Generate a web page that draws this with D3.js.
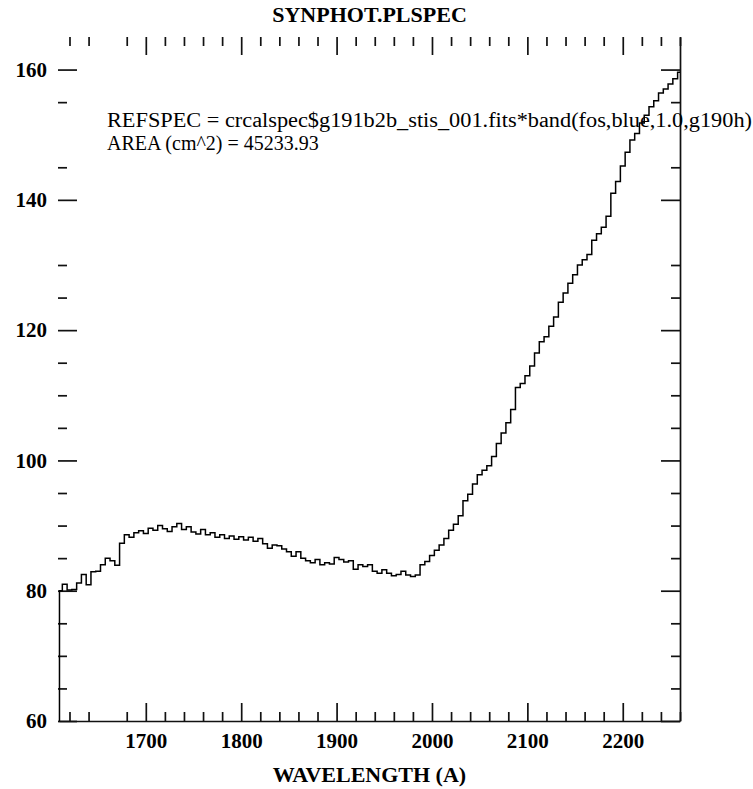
<!DOCTYPE html>
<html>
<head>
<meta charset="utf-8">
<script src="https://cdn.jsdelivr.net/npm/d3@7"></script>
<style>
  body { margin: 0; background: #fff; }
  svg text { font-family: "Liberation Serif", "Times New Roman", serif; fill: #000; }
  .axis text { font-size: 21px; font-weight: bold; }
  .axis line, .axis path { stroke: #111; stroke-width: 1.7; }
  .title, .xlabel { font-size: 22px; font-weight: bold; }
  .note { font-size: 20px; }
</style>
</head>
<body>
<div id="chart"></div>
<script>
const title = "SYNPHOT.PLSPEC";
const xLabel = "WAVELENGTH (A)";
const notes = [
    "REFSPEC = crcalspec$g191b2b_stis_001.fits*band(fos,blue,1.0,g190h)",
    "AREA (cm^2) = 45233.93"
];
const xDomain = [1609, 2260];
const yDomain = [60, 165];
const xMajorTicks = [1700, 1800, 1900, 2000, 2100, 2200];
const xMinorTicks = [1620, 1640, 1680, 1720, 1740, 1760, 1780, 1820, 1840, 1860, 1880,
    1920, 1940, 1960, 1980, 2020, 2040, 2060, 2080, 2120, 2140, 2160, 2180, 2220, 2240, 2260];
const yMajorTicks = [60, 80, 100, 120, 140, 160];
const yMinorTicks = [65, 70, 75, 85, 90, 95, 105, 110, 115, 125, 130, 145, 155];

// [wavelength (A), flux]
const spectrum = [
    [1610, 80.0], [1615, 81.0], [1620, 80.1], [1625, 80.2], [1630, 81.2], [1635, 82.5],
    [1640, 80.9], [1645, 82.9], [1650, 83.0], [1655, 84.0], [1660, 85.0], [1665, 84.6],
    [1670, 83.9], [1675, 87.3], [1680, 88.6], [1685, 88.2], [1690, 88.9], [1695, 89.2],
    [1700, 88.8], [1705, 89.6], [1710, 89.3], [1715, 90.0], [1720, 89.5], [1725, 89.1],
    [1730, 89.8], [1735, 90.3], [1740, 89.4], [1745, 89.8], [1750, 89.0], [1755, 88.7],
    [1760, 89.4], [1765, 88.6], [1770, 88.9], [1775, 88.2], [1780, 88.6], [1785, 88.0],
    [1790, 88.4], [1795, 87.9], [1800, 88.3], [1805, 87.8], [1810, 88.2], [1815, 87.6],
    [1820, 88.0], [1825, 87.2], [1830, 86.5], [1835, 87.0], [1840, 86.9], [1845, 86.4],
    [1850, 86.0], [1855, 85.3], [1860, 86.0], [1865, 85.0], [1870, 84.6], [1875, 84.3],
    [1880, 84.8], [1885, 84.0], [1890, 84.3], [1895, 84.1], [1900, 85.1], [1905, 84.8],
    [1910, 84.4], [1915, 84.6], [1920, 83.3], [1925, 84.0], [1930, 83.7], [1935, 84.0],
    [1940, 83.0], [1945, 82.7], [1950, 83.2], [1955, 82.7], [1960, 82.3], [1965, 82.5],
    [1970, 83.0], [1975, 82.4], [1980, 82.2], [1985, 82.4], [1990, 84.0], [1995, 84.5],
    [2000, 85.4], [2005, 86.2], [2010, 87.0], [2015, 88.0], [2020, 89.3], [2025, 90.2],
    [2030, 91.5], [2035, 93.8], [2040, 94.8], [2045, 96.4], [2050, 97.8], [2055, 98.5],
    [2060, 99.2], [2065, 100.6], [2070, 102.6], [2075, 104.2], [2080, 105.8], [2085, 107.8],
    [2090, 111.2], [2095, 111.8], [2100, 113.0], [2105, 114.5], [2110, 116.5], [2115, 118.2],
    [2120, 119.0], [2125, 120.6], [2130, 122.0], [2135, 124.3], [2140, 125.7], [2145, 127.2],
    [2150, 128.5], [2155, 130.0], [2160, 130.8], [2165, 131.6], [2170, 133.8], [2175, 134.8],
    [2180, 135.8], [2185, 137.5], [2190, 141.0], [2195, 142.8], [2200, 145.2], [2205, 147.3],
    [2210, 149.2], [2215, 150.2], [2220, 151.8], [2225, 153.0], [2230, 154.3], [2235, 155.2],
    [2240, 156.4], [2245, 157.0], [2250, 157.8], [2255, 158.6], [2260, 159.6]
];

class SpecPlot {
    constructor(element) {
        this.width = 753;
        this.height = 789;
        this.frame = {left: 59, right: 680, top: 37, bottom: 721};
        this.svg = d3.select(element).append("svg")
            .attr("width", this.width)
            .attr("height", this.height);
        this.x = d3.scaleLinear().domain(xDomain).range([this.frame.left, this.frame.right]);
        this.y = d3.scaleLinear().domain(yDomain).range([this.frame.bottom, this.frame.top]);
    }

    axes() {
        const f = this.frame;
        const g = this.svg.append("g").attr("class", "axis");

        g.append("g").attr("transform", `translate(0,${f.bottom})`)
            .call(d3.axisBottom(this.x).tickValues(xMajorTicks).tickSize(-18).tickSizeOuter(0).tickPadding(12).tickFormat(d3.format("d")));
        g.append("g").attr("transform", `translate(0,${f.bottom})`)
            .call(d3.axisBottom(this.x).tickValues(xMinorTicks).tickSize(-9).tickSizeOuter(0).tickFormat(""))
            .select(".domain").remove();

        g.append("g").attr("transform", `translate(0,${f.top})`)
            .call(d3.axisTop(this.x).tickValues(xMajorTicks).tickSize(-18).tickFormat(""))
            .select(".domain").remove();
        g.append("g").attr("transform", `translate(0,${f.top})`)
            .call(d3.axisTop(this.x).tickValues(xMinorTicks).tickSize(-9).tickFormat(""))
            .select(".domain").remove();

        g.append("g").attr("transform", `translate(${f.left - 1},0)`)
            .call(d3.axisLeft(this.y).tickValues(yMajorTicks).tickSize(-19).tickPadding(11).tickFormat(d3.format("d")))
            .select(".domain").remove();
        g.append("g").attr("transform", `translate(${f.left - 1},0)`)
            .call(d3.axisLeft(this.y).tickValues(yMinorTicks).tickSize(-9).tickFormat(""))
            .select(".domain").remove();

        g.append("g").attr("transform", `translate(${f.right},0)`)
            .call(d3.axisRight(this.y).tickValues(yMajorTicks).tickSize(-19).tickSizeOuter(0).tickFormat(""));
        g.append("g").attr("transform", `translate(${f.right},0)`)
            .call(d3.axisRight(this.y).tickValues(yMinorTicks).tickSize(-9).tickSizeOuter(0).tickFormat(""))
            .select(".domain").remove();
    }

    draw() {
        const f = this.frame;
        this.axes();

        this.svg.append("clipPath").attr("id", "plot-clip")
            .append("rect")
            .attr("x", f.left - 1).attr("y", f.top)
            .attr("width", f.right - f.left + 1).attr("height", f.bottom - f.top);

        // the trace rises from the floor of the plot to the first flux value
        const pts = [[xDomain[0], yDomain[0]]].concat(spectrum);
        const line = d3.line()
            .x((d) => this.x(d[0]))
            .y((d) => this.y(d[1]))
            .curve(d3.curveStep);

        this.svg.append("path")
            .datum(pts)
            .attr("clip-path", "url(#plot-clip)")
            .attr("fill", "none")
            .attr("stroke", "#000")
            .attr("stroke-width", 1.5)
            .attr("d", line);

        this.svg.append("text")
            .attr("class", "title")
            .attr("x", (f.left + f.right) / 2)
            .attr("y", 22)
            .attr("text-anchor", "middle")
            .text(title);

        this.svg.append("text")
            .attr("class", "xlabel")
            .attr("x", (f.left + f.right) / 2)
            .attr("y", 782)
            .attr("text-anchor", "middle")
            .text(xLabel);

        this.svg.selectAll(".note")
            .data(notes)
            .enter().append("text")
            .attr("class", "note")
            .attr("x", 107)
            .attr("y", (d, i) => 127 + i * 23)
            .attr("textLength", (d, i) => i === 0 ? 645 : null)
            .attr("lengthAdjust", "spacingAndGlyphs")
            .text((d) => d);
    }
}

new SpecPlot(document.getElementById("chart")).draw();
</script>
</body>
</html>
